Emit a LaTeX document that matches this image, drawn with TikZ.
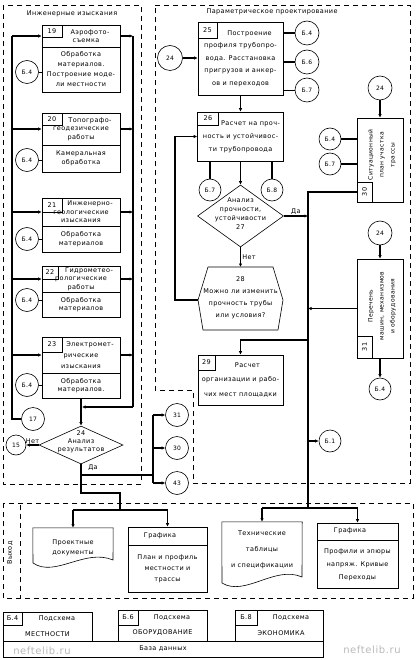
\documentclass[tikz,border=0pt]{standalone}
\usepackage{fontspec}
\usepackage{graphicx}
\setmainfont{DejaVu Sans}[LetterSpace=6]
\usetikzlibrary{arrows.meta,shapes.geometric,calc}
\begin{document}
\begin{tikzpicture}[x=1pt,y=-1pt,
  font=\fontsize{6.5}{8.5}\selectfont,
  box/.style={draw,line width=0.6pt,inner sep=1pt,align=center},
  numbox/.style={draw,line width=0.6pt,inner sep=0pt,anchor=north west},
  circ/.style={draw,circle,line width=0.6pt,minimum size=23pt,inner sep=0pt,font=\fontsize{6}{7}\selectfont},
  conn/.style={line width=1.5pt},
  arr/.style={conn,-{Latex[length=3.5pt,width=3.5pt]}},
  thinconn/.style={line width=0.7pt},
  panel/.style={line width=0.6pt,dash pattern=on 5pt off 4pt},
  lbl/.style={inner sep=1pt},
  dia/.style={draw,diamond,line width=0.6pt,inner sep=0pt},
]
\useasboundingbox (0,0) rectangle (415,660);

% ---------- left panel ----------
\draw[panel] (3,5) rectangle (141,484);
\node[lbl] (tL) at (72,14) {Инженерные изыскания};
\coordinate (lbx) at (12,0);
\coordinate (rbx) at (133,0);

\node[box,minimum width=78pt,minimum height=22pt] (b19u) at (81,36) {\hspace*{18pt}Аэрофото-\\\hspace*{10pt}съемка};
\node[numbox,minimum width=20pt,minimum height=12pt] (n19) at (b19u.north west) {19};
\node[box,minimum width=78pt,minimum height=45pt,font=\fontsize{6.5}{10}\selectfont] (b19l) at (81,69.5) {Обработка\\материалов.\\Построение моде-\\ли местности};
\node[circ] (c19) at (27,72) {Б.4};

\node[box,minimum width=78pt,minimum height=32pt] (b20u) at (81,129) {\hspace*{18pt}Топографо-\\геодезические\\работы};
\node[numbox,minimum width=20pt,minimum height=12pt] (n20) at (b20u.north west) {20};
\node[box,minimum width=78pt,minimum height=27pt] (b20l) at (81,158.5) {Камеральная\\обработка};
\node[circ] (c20) at (27,160) {Б.4};

\node[box,minimum width=78pt,minimum height=28pt] (b21u) at (81,212) {\hspace*{18pt}Инженерно-\\геологические\\изыскания};
\node[numbox,minimum width=20pt,minimum height=14pt] (n21) at (b21u.north west) {21};
\node[box,minimum width=78pt,minimum height=26pt] (b21l) at (81,239) {Обработка\\материалов};
\node[circ] (c21) at (27,239) {Б.4};

\node[box,minimum width=78pt,minimum height=26pt] (b22u) at (81,279) {\hspace*{16pt}Гидрометео-\\рологические\\работы};
\node[numbox,minimum width=16pt,minimum height=13pt] (n22) at (b22u.north west) {22};
\node[box,minimum width=78pt,minimum height=25pt] (b22l) at (81,304.5) {Обработка\\материалов};
\node[circ] (c22) at (27,300) {Б.4};

\node[box,minimum width=78pt,minimum height=36pt,font=\fontsize{6.5}{11}\selectfont] (b23u) at (81,355) {\hspace*{18pt}Электромет-\\рические\\изыскания};
\node[numbox,minimum width=20pt,minimum height=15pt] (n23) at (b23u.north west) {23};
\node[box,minimum width=78pt,minimum height=25pt] (b23l) at (81,385.5) {Обработка\\материалов.};
\node[circ] (c23) at (27,385) {Б.4};

\foreach \c/\b in {c19/b19l,c20/b20l,c21/b21l,c22/b22l,c23/b23l}{
  \draw[thinconn] (\c.east) -- (\c.east -| \b.west);
}

\node[circ] (c17) at (33,419) {17};
\draw[conn] (c17.west) -- (c17.west -| lbx) -- (b19u.west -| lbx);
\foreach \b in {b19u,b20u,b21u,b22u,b23u}{
  \draw[arr] (\b.west -| lbx) -- (\b.west);
  \draw[arr] (\b.east) -- (\b.east -| rbx);
}
\coordinate (j24) at (81,407);
\draw[conn] (b19u.east -| rbx) -- (j24 -| rbx);
\draw[arr] (j24 -| rbx) -- ([xshift=1pt]j24);

\node[dia,minimum width=84pt,minimum height=38pt] (d24) at (81,445) {};
\node[lbl,align=center,font=\fontsize{6.5}{8}\selectfont] (d24t) at (81,442) {24\\Анализ\\результатов};
\draw[arr] (b23l.south) -- (d24.north);
\node[circ,minimum size=20pt] (c15) at (16,445) {15};
\draw[arr] (d24.west) -- node[lbl,above] (lnet1) {Нет} (c15.east);

\coordinate (jy) at (81,475);
\coordinate (jb) at (81,493);
\coordinate (jc) at (120,493);
\coordinate (jd) at (120,510);
\coordinate (cbx) at (153,0);
\draw[conn] (d24.south) -- (jb) -- (jc) -- (jd);
\node[lbl] (lda1) at (93,468) {Да};
\node[circ] (c31) at (177,415) {31};
\node[circ] (c30) at (177,448) {30};
\node[circ] (c43) at (177,483) {43};
\draw[conn] (jy) -- (jy -| cbx);
\draw[conn] (c31.west -| cbx) -- (c43.west -| cbx);
\foreach \c in {c31,c30,c43}{
  \draw[arr] (\c.west -| cbx) -- (\c.west);
}

% ---------- right panel ----------
\draw[panel] (155,5) -- (410,5) -- (410,483) -- (193,483) -- (193,390) -- (155,390) -- cycle;
\node[lbl] (tR) at (272,12) {Параметрическое проектирование};
\coordinate (rbus) at (308,0);

\node[circ,minimum size=25pt] (c24a) at (170,58) {24};
\node[box,minimum width=85pt,minimum height=73pt,font=\fontsize{6.5}{12.5}\selectfont] (b25) at (240.5,58.5) {\hspace*{18pt}Построение\\профиля трубопро-\\вода. Расстановка\\пригрузов и анкер-\\ов и переходов};
\node[numbox,minimum width=19pt,minimum height=16pt] (n25) at (b25.north west) {25};
\draw[arr] (c24a.east) -- (c24a.east -| b25.west);
\node[circ,minimum size=24pt] (c25a) at (307,33) {Б.4};
\node[circ,minimum size=24pt] (c25b) at (307,62) {Б.6};
\node[circ,minimum size=24pt] (c25c) at (307,90) {Б.7};
\draw[conn] (c25a.west -| b25.east) -- (c25a.west);
\draw[conn] (c25b.west -| b25.east) -- (c25b.west);
\draw[thinconn] (c25c.west -| b25.east) -- (c25c.west);

\node[box,minimum width=86pt,minimum height=49pt,font=\fontsize{6.5}{13}\selectfont] (b26) at (240.5,136.5) {\hspace*{20pt}Расчет на проч-\\ность и устойчивос-\\ти трубопровода};
\node[numbox,minimum width=21pt,minimum height=13pt] (n26) at (b26.north west) {26};
\draw[arr] (b25.south) -- (b26.north);

\node[circ,minimum size=22pt] (c26a) at (210,190) {Б.7};
\node[circ,minimum size=22pt] (c26b) at (272,190) {Б.8};
\draw[conn] (c26a.north |- b26.south) -- (c26a.north);
\draw[conn] (c26b.north |- b26.south) -- (c26b.north);

\node[dia,minimum width=86pt,minimum height=62pt] (d27) at (240.5,216) {};
\node[lbl,align=center,font=\fontsize{6.5}{9}\selectfont] (d27t) at (240.5,214) {Анализ\\прочности,\\устойчивости\\27};
\draw[arr] (b26.south) -- (d27.north);

\node[lbl,align=center,font=\fontsize{6.5}{12}\selectfont] (h28) at (240.5,298) {28\\Можно ли изменить\\прочность трубы\\или условия?};
\draw[line width=0.6pt] (208,267) -- (273,267) -- (283,300) -- (278,330) -- (203,330) -- (198,300) -- cycle;
\coordinate (h28n) at (240.5,267);
\coordinate (h28w) at (198,300);
\coordinate (lp) at (175,0);
\draw[arr] (d27.south) -- node[lbl,right] (lnet2) {Нет} (h28n);
\draw[arr] (h28w) -- (h28w -| lp) -- (b26.west -| lp) -- (b26.west);

\draw[arr] (d27.east) -- node[lbl,above] (lda2) {Да} (d27.east -| rbus);

% box 30
\node[box,minimum width=46pt,minimum height=84pt] (b30) at (380,160) {};
\node[lbl,rotate=90,align=center,font=\fontsize{6}{11}\selectfont] (b30t) at (382,155) {Ситуационный\\план участка\\трассы};
\node[draw,line width=0.6pt,minimum width=15pt,minimum height=20pt,inner sep=0pt,anchor=south west] (n30) at (b30.south west) {\rotatebox{90}{30}};
\node[circ,minimum size=24pt] (c24b) at (380,88) {24};
\draw[arr] (c24b.south) -- (b30.north);
\node[circ,minimum size=22pt] (c30a) at (330,139) {Б.4};
\node[circ,minimum size=22pt] (c30b) at (330,164) {Б.7};
\draw[conn] (c30a.east) -- (c30a.east -| b30.west);
\draw[conn] (c30b.east) -- (c30b.east -| b30.west);

% bus
\coordinate (jr) at (308,508);
\draw[conn] (n30.west) -- (n30.west -| rbus) -- (jr);

% box 31
\node[box,minimum width=46pt,minimum height=99pt] (b31) at (380,308.5) {};
\node[lbl,rotate=90,align=center,font=\fontsize{6}{11}\selectfont] (b31t) at (382,306) {Перечень\\машин, механизмов\\и оборудования};
\node[draw,line width=0.6pt,minimum width=15pt,minimum height=22pt,inner sep=0pt,anchor=south west] (n31) at (b31.south west) {\rotatebox{90}{31}};
\node[circ,minimum size=24pt] (c24c) at (380,233) {24};
\draw[arr] (c24c.south) -- (b31.north);
\node[circ,minimum size=22pt] (c31b) at (380,389) {Б.4};
\draw[arr] (b31.south) -- (c31b.north);
\draw[arr] (b31.west) -- (b31.west -| rbus);

% box 29
\node[box,minimum width=85pt,minimum height=50pt,font=\fontsize{6.5}{14.5}\selectfont] (b29) at (240.5,380) {\hspace*{14pt}Расчет\\организации и рабо-\\чих мест площадки};
\node[numbox,minimum width=17pt,minimum height=15pt] (n29) at (b29.north west) {29};
\coordinate (j29) at (308,340);
\draw[arr] (j29) -- (j29 -| b29.north) -- (b29.north);

\node[circ,minimum size=22pt] (cb1) at (330,441) {Б.1};
\draw[arr] (cb1.west -| rbus) -- (cb1.west);

% ---------- output ----------
\draw[panel] (3,503) rectangle (413,598);
\draw[panel] (20,505) -- (20,598);
\node[lbl,rotate=90] (lout) at (10,553) {Выход};

\node[minimum width=80pt,minimum height=40pt,inner sep=0pt,align=center,font=\fontsize{6.5}{10}\selectfont] (doc1) at (73,548) {Проектные\\документы};
\draw[line width=0.6pt] (doc1.north west) -- (doc1.north east) -- (113,560) .. controls (85,548) and (55,578) .. (33,563) -- cycle;

\node[box,minimum width=79pt,minimum height=65pt] (graf1) at (167.5,559.5) {};
\draw[line width=0.6pt] (graf1.west |- 0,545) -- (graf1.east |- 0,545);
\node[lbl] (g1h) at (160,536) {Графика};
\node[lbl,align=center,font=\fontsize{6.5}{11}\selectfont] (g1t) at (167.5,569) {План и профиль\\местности и\\трассы};

\draw[conn] (doc1.north |- jd) -- (graf1.north |- jd);
\draw[arr] (doc1.north |- jd) -- (doc1.north);
\draw[arr] (graf1.north |- jd) -- (graf1.north);

\node[minimum width=80pt,minimum height=56pt,inner sep=0pt,align=center,font=\fontsize{6.5}{16}\selectfont] (doc2) at (262,550) {Технические\\таблицы\\и спецификации};
\draw[line width=0.6pt] (doc2.north west) -- (doc2.north east) -- (302,577) .. controls (275,565) and (245,597) .. (222,583) -- cycle;

\node[box,minimum width=81pt,minimum height=65pt] (graf2) at (357.5,555.5) {};
\draw[line width=0.6pt] (graf2.west |- 0,540) -- (graf2.east |- 0,540);
\node[lbl] (g2h) at (350,531) {Графика};
\node[lbl,align=center,font=\fontsize{6.5}{13}\selectfont] (g2t) at (357.5,565) {Профили и эпюры\\напряж. Кривые\\Переходы};

\draw[conn] (doc2.north |- jr) -- (graf2.north |- jr);
\draw[arr] (doc2.north |- jr) -- (doc2.north);
\draw[arr] (graf2.north |- jr) -- (graf2.north);

% ---------- database ----------
\node[box,minimum width=320pt,minimum height=16pt] (db) at (163,649) {База данных};
\node[box,minimum width=89pt,minimum height=29pt] (sb4) at (47.5,626.5) {};
\node[numbox,minimum width=19pt,minimum height=13pt] (ns4) at (sb4.north west) {Б.4};
\node[lbl] (sb4a) at (57,619) {Подсхема};
\node[lbl] (sb4b) at (47.5,634) {МЕСТНОСТИ};
\node[box,minimum width=89pt,minimum height=31pt] (sb6) at (162.5,625.5) {};
\node[numbox,minimum width=20pt,minimum height=15pt] (ns6) at (sb6.north west) {Б.6};
\node[lbl] (sb6a) at (172,618) {Подсхема};
\node[lbl] (sb6b) at (162.5,633) {ОБОРУДОВАНИЕ};
\node[box,minimum width=88pt,minimum height=31pt] (sb8) at (279,625.5) {};
\node[numbox,minimum width=22pt,minimum height=15pt] (ns8) at (sb8.north west) {Б.8};
\node[lbl] (sb8a) at (291,618) {Подсхема};
\node[lbl] (sb8b) at (281,633) {ЭКОНОМИКА};

\node[lbl,text=gray!55,font=\fontsize{10}{12}\selectfont] (wm1) at (42,651) {neftelib.ru};
\node[lbl,text=gray!55,font=\fontsize{10}{12}\selectfont] (wm2) at (372,650) {neftelib.ru};
\end{tikzpicture}
\end{document}
